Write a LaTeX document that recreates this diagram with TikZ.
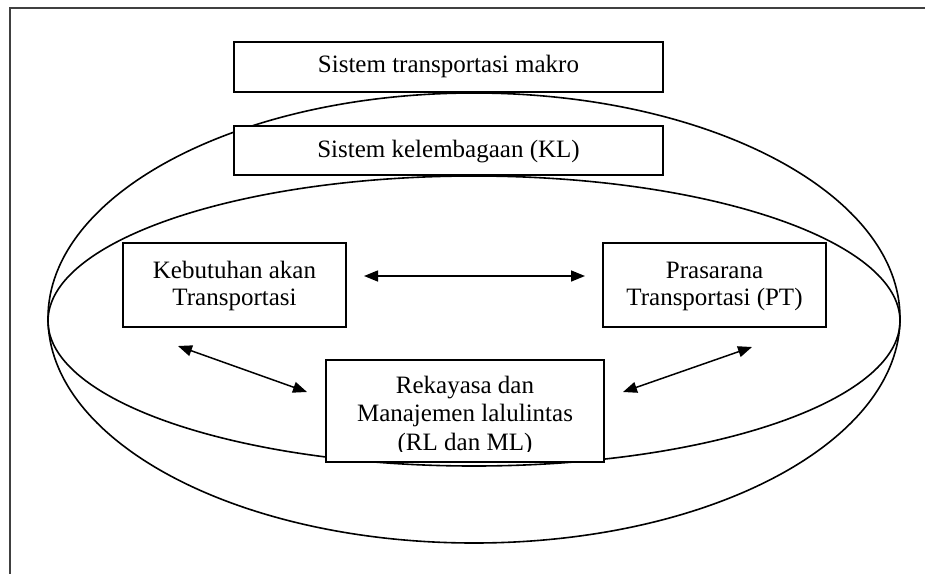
\documentclass[tikz,border=0pt]{standalone}
\usepackage{fontspec}
\setmainfont{Liberation Serif}
\usetikzlibrary{arrows.meta}
\begin{document}
\begin{tikzpicture}[x=1pt,y=-1pt,
  box/.style={draw=black, line width=1.5pt, fill=white, inner sep=0pt},
  txt/.style={font=\fontsize{25}{28.5}\selectfont, inner sep=0pt, anchor=base},
  ring/.style={draw=black, line width=1.6pt},
  link/.style={line width=1.5pt,
    {Triangle[length=14pt,width=11pt]}-{Triangle[length=14pt,width=11pt]}},
  frame/.style={draw=black!75, line width=1.8pt}]
\useasboundingbox (0,0) rectangle (925,573);

% page frame (only its top and left sides fall on the page)
\draw[frame] (10,580) -- (10,8) -- (935,8);

% the two nested systems
\draw[ring] (474,318) ellipse [x radius=426pt, y radius=225pt];
\draw[ring] (474,321) ellipse [x radius=426pt, y radius=145pt];

% boxes
\node[box, minimum width=429pt, minimum height=50pt] (makro) at (448.5,67) {};
\node[txt] (makrotxt) at (448.5,72.5) {Sistem transportasi makro};

\node[box, minimum width=429pt, minimum height=49pt] (kl) at (448.5,150.5) {};
\node[txt] (kltxt) at (448.5,157.5) {Sistem kelembagaan (KL)};

\node[box, minimum width=223pt, minimum height=84pt] (keb) at (234.5,285) {};
\node[txt] (keb1) at (234.5,278) {Kebutuhan akan};
\node[txt] (keb2) at (234.5,305) {Transportasi};

\node[box, minimum width=223pt, minimum height=84pt] (pt) at (714.5,285) {};
\node[txt] (pt1) at (714.5,278) {Prasarana};
\node[txt] (pt2) at (714.5,305) {Transportasi (PT)};

\node[box, minimum width=278pt, minimum height=102pt] (rl) at (465,411) {};
\begin{scope}
  \clip (330,364) rectangle (600,451);
  \node[txt] (rl1) at (465,393) {Rekayasa dan};
  \node[txt] (rl2) at (465,421.5) {Manajemen lalulintas};
  \node[txt] (rl3) at (465,450) {(RL dan ML)};
\end{scope}

% arrow ends
\coordinate (kebE) at (364,276);
\coordinate (ptW) at (585,276);
\coordinate (kebS) at (178,346);
\coordinate (rlW) at (307,392);
\coordinate (rlE) at (623,392);
\coordinate (ptS) at (752,347);

% links
\draw[link] (kebE) -- (ptW);
\draw[link] (kebS) -- (rlW);
\draw[link] (rlE) -- (ptS);
\end{tikzpicture}
\end{document}
